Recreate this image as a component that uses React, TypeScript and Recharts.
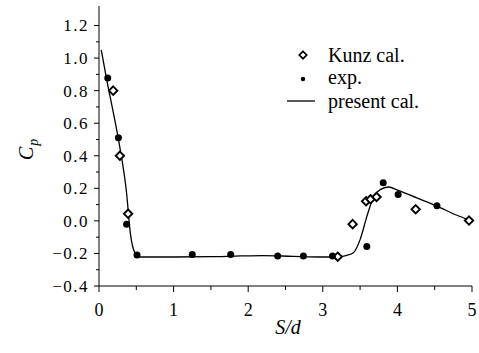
import React from "react";
import { ComposedChart, Line, Scatter, XAxis, YAxis } from "recharts";

// Kunz cal. (hollow diamonds)
const kunzX = [0.19, 0.28, 0.39, 3.2, 3.4, 3.58, 3.64, 3.72, 4.245, 4.96];
const kunzY = [0.8, 0.4, 0.044, -0.22, -0.02, 0.121, 0.133, 0.147, 0.071, 0.002];

// exp. (filled dots)
const expX = [0.117, 0.26, 0.37, 0.51, 1.25, 1.765, 2.395, 2.74, 3.13, 3.59, 3.81, 4.01, 4.53];
const expY = [0.877, 0.51, -0.02, -0.21, -0.206, -0.206, -0.216, -0.216, -0.216, -0.158, 0.234, 0.162, 0.093];

// present cal. (solid line)
const presentX = [
  0.03, 0.1, 0.19, 0.28, 0.37, 0.42, 0.48, 0.55, 1.0, 1.5, 1.9, 2.2, 2.6, 3.0,
  3.2, 3.32, 3.41, 3.5, 3.59, 3.68, 3.77, 3.88, 4.01, 4.26, 4.53, 4.79, 4.96,
];
const presentY = [
  1.05, 0.875, 0.67, 0.45, 0.17, -0.075, -0.194, -0.222, -0.222, -0.22, -0.215,
  -0.213, -0.218, -0.222, -0.222, -0.212, -0.196, -0.115, 0.026, 0.147, 0.192,
  0.208, 0.188, 0.141, 0.091, 0.036, 0.006,
];

const xTicks = [0, 0.5, 1, 1.5, 2, 2.5, 3, 3.5, 4, 4.5, 5];
const yTicks = [
  -0.4, -0.3, -0.2, -0.1, 0, 0.1, 0.2, 0.3, 0.4, 0.5, 0.6, 0.7, 0.8, 0.9, 1.0, 1.1, 1.2,
];

const kunzData = kunzX.map((x, i) => ({ x, y: kunzY[i] }));
const expData = expX.map((x, i) => ({ x, y: expY[i] }));
const presentData = presentX.map((x, i) => ({ x, y: presentY[i] }));

const FONT = "'Liberation Serif', 'Times New Roman', serif";
const serif = { fontFamily: FONT };
const italic = { fontFamily: FONT, fontStyle: "italic" as const };

const YTick = (props: any) => {
  const { x, y, payload } = props;
  const v = payload.value;
  const major = Math.round(v * 10) % 2 === 0;
  const label = v.toFixed(1).replace("-", "\u2212");
  return (
    <g>
      <line x1={x} y1={y} x2={x - (major ? 5 : 3)} y2={y} stroke="#000" strokeWidth={1} />
      {major && (
        <text x={x - 10} y={y} dy="0.35em" textAnchor="end" style={{ ...serif, fontSize: 17, letterSpacing: 1.5 }} fill="#000">
          {label}
        </text>
      )}
    </g>
  );
};

const XTick = (props: any) => {
  const { x, y, payload } = props;
  const v = payload.value;
  const major = Number.isInteger(v);
  return (
    <g>
      <line x1={x} y1={y} x2={x} y2={y + (major ? 6 : 4)} stroke="#000" strokeWidth={1} />
      {major && (
        <text x={x} y={y + 30} textAnchor="middle" style={{ ...serif, fontSize: 18 }} fill="#000">
          {v}
        </text>
      )}
    </g>
  );
};

const Diamond = (props: any) => {
  const { cx, cy } = props;
  const s = 4.2;
  return (
    <polygon
      points={`${cx},${cy - s} ${cx + s},${cy} ${cx},${cy + s} ${cx - s},${cy}`}
      fill="#fff"
      stroke="#000"
      strokeWidth={1.9}
    />
  );
};

const Dot = (props: any) => {
  const { cx, cy } = props;
  return <circle cx={cx} cy={cy} r={3.5} fill="#000" />;
};

const YLabel = () => (
  <text transform="translate(33,160) rotate(-90)" style={{ ...italic, fontSize: 20 }} fill="#000">
    C
    <tspan style={{ fontSize: 14 }} dx={1} dy={5}>
      p
    </tspan>
  </text>
);

const XLabel = () => (
  <text x={288} y={334} textAnchor="middle" style={{ ...italic, fontSize: 20 }} fill="#000">
    S/d
  </text>
);

const LegendBox = () => (
  <svg width={160} height={75} style={{ position: "absolute", left: 282, top: 42 }}>
    <polygon points="21,9.3 24.7,13 21,16.7 17.3,13" fill="#fff" stroke="#000" strokeWidth={1.7} />
    <text x={46} y={13} dy="0.35em" style={{ ...serif, fontSize: 20 }} fill="#000">Kunz cal.</text>
    <circle cx={21} cy={37} r={2.2} fill="#000" />
    <text x={46} y={35} dy="0.35em" style={{ ...serif, fontSize: 20 }} fill="#000">exp.</text>
    <line x1={5} y1={59} x2={33} y2={59} stroke="#000" strokeWidth={1.3} />
    <text x={46} y={59} dy="0.35em" style={{ ...serif, fontSize: 20 }} fill="#000">present cal.</text>
  </svg>
);

export default function App() {
  return (
    <div style={{ position: "absolute", left: 0, top: 0, width: 479, height: 353, background: "#fff" }}>
      <ComposedChart width={479} height={353} margin={{ top: 6, right: 7, left: 0, bottom: 0 }}>
        <XAxis
          dataKey="x"
          type="number"
          domain={[0, 5]}
          ticks={xTicks}
          interval={0}
          height={67}
          tickSize={0}
          tickMargin={0}
          tickLine={false}
          tick={<XTick />}
          stroke="#000"
          label={<XLabel />}
        />
        <YAxis
          dataKey="y"
          type="number"
          domain={[-0.4, 1.32]}
          ticks={yTicks}
          interval={0}
          width={99}
          tickSize={0}
          tickMargin={0}
          tickLine={false}
          tick={<YTick />}
          stroke="#000"
          label={<YLabel />}
        />
        <Line
          data={presentData}
          dataKey="y"
          type="monotone"
          stroke="#000"
          strokeWidth={1.3}
          dot={false}
          activeDot={false}
          isAnimationActive={false}
          name="present cal."
        />
        <Scatter data={kunzData} dataKey="y" shape={<Diamond />} isAnimationActive={false} name="Kunz cal." />
        <Scatter data={expData} dataKey="y" shape={<Dot />} isAnimationActive={false} name="exp." />
      </ComposedChart>
      <LegendBox />
    </div>
  );
}
